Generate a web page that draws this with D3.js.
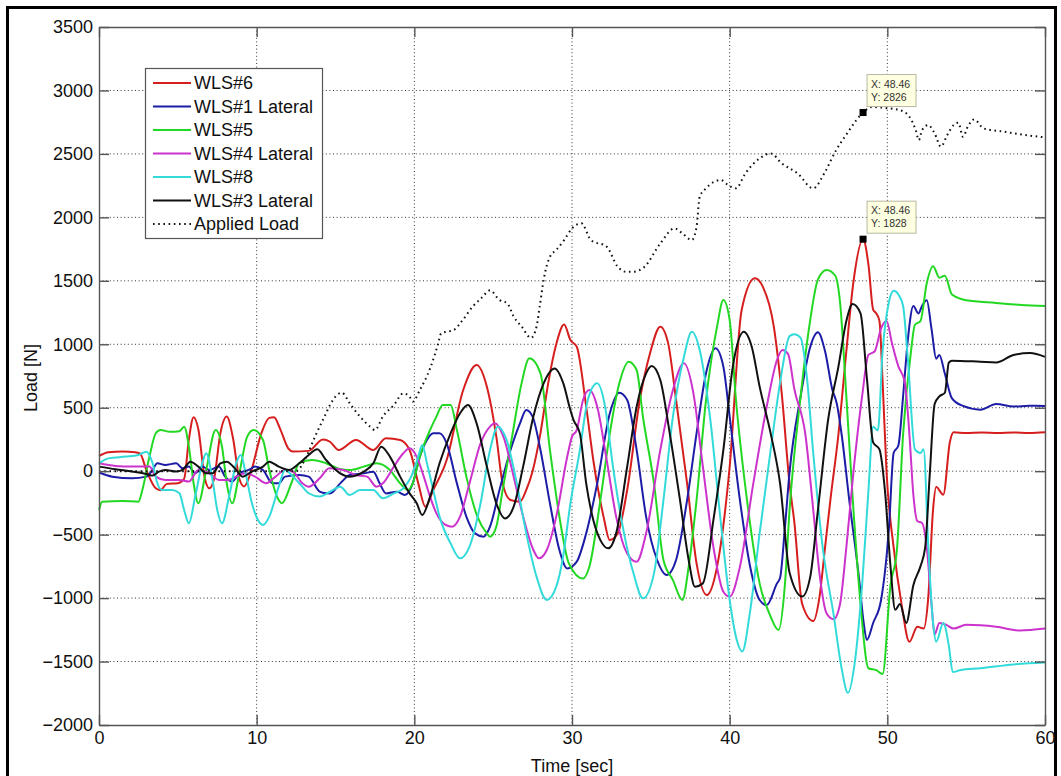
<!DOCTYPE html>
<html>
<head>
<meta charset="utf-8">
<script src="https://cdn.jsdelivr.net/npm/d3@7"></script>
<style>
  html, body { margin: 0; padding: 0; background: #fff; }
  svg { display: block; font-family: "Liberation Sans", Arial, Helvetica, sans-serif; }
</style>
</head>
<body>
<svg id="chart" width="1061" height="776"></svg>
<script>
// Axis ticks
const xTicks = [0, 10, 20, 30, 40, 50, 60];
const yTicks = [-2000, -1500, -1000, -500, 0, 500, 1000, 1500, 2000, 2500, 3000, 3500];

// Series as [time s, load N]
const wls6 = [[0,120],[0.6,150],[1.5,155],[2.3,150],[2.6,140],[3.0,10],[3.6,-135],[3.9,-150],[4.3,-100],[5.0,-95],[5.4,-60],[5.7,250],[6.0,425],[6.3,330],[6.7,-50],[7.0,-135],[7.3,-60],[7.7,300],[8.1,430],[8.5,260],[8.9,-60],[9.2,-120],[9.6,-20],[10.3,300],[10.8,420],[11.1,425],[11.5,330],[12.0,180],[12.3,155],[13.3,160],[14.2,250],[14.65,232],[15.2,167],[16.3,246],[17.4,167],[18.2,259],[19.1,246],[19.7,167],[20.25,-96],[20.7,-280],[21.2,-148],[22.05,88],[23.1,640],[23.95,837],[24.6,666],[25.2,272],[25.6,-96],[26.1,-227],[26.7,-240],[27.1,-148],[27.5,0],[28.0,300],[28.5,700],[29.0,1000],[29.5,1155],[29.9,1033],[30.3,981],[30.9,508],[31.35,88],[32.0,-358],[32.4,-543],[32.9,-490],[33.5,-148],[34.3,561],[34.95,929],[35.6,1139],[36.1,1007],[36.6,561],[37.3,-96],[37.9,-727],[38.55,-976],[39.2,-753],[40.0,35],[40.76,1270],[41.6,1520],[42.1,1454],[42.8,1139],[43.3,615],[43.8,-100],[44.1,-400],[44.6,-1047],[45.3,-1181],[45.7,-988],[46.05,-601],[46.4,-214],[46.9,291],[47.4,945],[47.84,1481],[48.46,1828],[48.8,1630],[49.1,1273],[49.3,1243],[49.5,1183],[49.7,708],[49.95,-6],[50.4,-601],[50.9,-1047],[51.4,-1344],[51.9,-1226],[52.3,-1240],[52.6,-988],[52.9,-303],[53.1,-125],[53.55,-185],[53.97,232],[54.2,306],[55,300],[56,305],[57,300],[58,305],[59,300],[60,306]];

const wls1Lat = [[0,-10],[0.85,-43],[2.1,-56],[3.0,-43],[3.4,10],[3.7,62],[4.2,49],[4.9,62],[5.3,23],[5.7,36],[6.1,-17],[6.55,36],[7.0,10],[7.6,36],[8.0,-43],[8.45,-82],[8.9,-17],[9.5,10],[9.9,36],[10.4,10],[11.0,-95],[11.4,-95],[11.8,-43],[12.7,-30],[13.3,-43],[14.0,-161],[14.4,-174],[14.65,-175],[15.3,-96],[15.9,-30],[16.8,-17],[17.4,-4],[17.8,-96],[18.2,-175],[18.9,-162],[19.4,-188],[19.9,-96],[20.35,115],[20.8,246],[21.2,298],[21.6,298],[22.05,219],[22.7,-96],[23.3,-358],[23.85,-490],[24.4,-516],[24.8,-437],[25.4,-148],[26.1,167],[26.7,377],[27.1,482],[27.5,430],[28.0,167],[28.6,-253],[29.2,-621],[29.7,-766],[30.3,-713],[30.9,-490],[31.6,-96],[32.4,456],[33.0,618],[33.5,561],[34.1,167],[34.7,-358],[35.4,-700],[36.0,-818],[36.6,-700],[37.3,-228],[37.9,298],[38.5,771],[39.1,968],[39.6,824],[40.0,429],[40.65,-228],[41.3,-753],[41.9,-1015],[42.35,-1055],[43.0,-884],[43.2,-839],[43.5,-450],[43.8,-6],[44.5,589],[45.1,975],[45.6,1094],[46.05,945],[46.5,648],[46.8,529],[47.1,291],[47.6,-244],[48.2,-839],[48.5,-1196],[48.7,-1330],[49.1,-1196],[49.6,-1017],[50.1,-452],[50.4,143],[50.7,202],[51.0,589],[51.3,1035],[51.65,1302],[51.97,1243],[52.2,1302],[52.5,1347],[52.8,1124],[53.1,886],[53.3,916],[53.65,767],[54.1,574],[54.8,514],[55.9,485],[56.9,529],[58,510],[59,515],[60,514]];

const wls5 = [[0,-306],[0.2,-240],[1.5,-235],[2.5,-240],[2.75,-148],[3.2,115],[3.6,299],[3.9,325],[4.5,310],[5.1,315],[5.4,351],[5.7,194],[6.0,-95],[6.3,-253],[6.8,10],[7.4,325],[7.8,194],[8.1,-95],[8.45,-253],[8.9,-16],[9.4,272],[9.8,325],[10.4,246],[10.8,10],[11.4,-227],[11.6,-253],[12.2,-95],[12.7,63],[13.5,88],[14.4,63],[15.2,20],[15.9,9],[16.8,36],[17.6,62],[18.45,9],[19.1,-96],[19.6,-148],[19.9,-96],[20.35,115],[21.0,325],[21.4,430],[21.8,521],[22.3,521],[22.7,325],[23.3,-43],[24.0,-358],[24.6,-490],[24.8,-516],[25.2,-437],[25.6,-148],[26.2,272],[26.8,692],[27.3,889],[28.0,771],[28.6,167],[29.2,-358],[29.8,-726],[30.7,-845],[31.1,-753],[31.8,-228],[32.4,298],[33.0,692],[33.6,863],[34.1,797],[34.5,429],[35.2,-96],[35.8,-700],[36.4,-858],[37.0,-1015],[37.4,-753],[37.9,-228],[38.5,561],[39.2,1139],[39.6,1349],[40.0,1191],[40.4,561],[41.1,-228],[41.9,-884],[42.6,-1147],[43.1,-1252],[43.5,-900],[43.8,-304],[44.5,589],[45.1,1183],[45.6,1511],[46.15,1585],[46.7,1540],[47.0,1332],[47.4,589],[47.85,-304],[48.3,-1047],[48.8,-1553],[49.3,-1568],[49.7,-1598],[50.2,-898],[50.6,-631],[51.0,291],[51.5,945],[51.75,1154],[52.1,1183],[52.5,1481],[52.9,1615],[53.3,1525],[53.65,1540],[54.1,1392],[55.0,1347],[56.9,1326],[58.5,1310],[60,1302]];

const wls4Lat = [[0,62],[1.05,41],[2.1,36],[3.2,36],[3.6,-43],[4.2,-69],[5.1,-69],[5.7,-82],[6.3,10],[7.0,-17],[7.6,-69],[8.2,-69],[8.7,-43],[9.3,-17],[9.9,-43],[10.6,-95],[11.2,-43],[11.8,10],[12.3,-3],[12.9,-95],[13.3,-122],[14.0,-56],[14.6,23],[15.5,9],[16.3,-30],[17.0,-43],[17.6,-122],[18.0,-96],[18.7,36],[19.3,141],[19.7,180],[20.15,115],[20.6,-43],[21.0,-201],[21.4,-332],[22.0,-424],[22.4,-437],[22.9,-358],[23.5,-96],[24.2,219],[24.8,351],[25.1,377],[25.65,272],[26.3,-43],[26.9,-358],[27.55,-621],[27.9,-687],[28.4,-621],[29.0,-358],[29.7,115],[30.0,272],[30.3,324],[30.7,561],[31.1,640],[31.6,508],[32.2,88],[32.8,-358],[33.5,-648],[34.1,-713],[34.7,-490],[35.6,167],[36.4,640],[37.1,850],[37.7,613],[38.3,35],[39.0,-621],[39.6,-950],[40.0,-989],[40.65,-753],[41.5,-96],[42.35,508],[43.0,876],[43.35,955],[43.7,925],[44.1,648],[44.8,291],[45.3,-304],[45.7,-809],[46.15,-1121],[46.6,-1166],[47.0,-1047],[47.4,-601],[47.85,-6],[48.4,589],[48.8,916],[49.2,945],[49.6,1124],[49.95,1183],[50.3,1005],[50.7,826],[51.1,708],[51.4,291],[51.65,-185],[51.9,-393],[52.2,-408],[52.5,-601],[52.8,-1047],[53.0,-1285],[53.3,-1196],[53.75,-1211],[54.2,-1240],[55.0,-1211],[56.9,-1226],[58.4,-1255],[60,-1240]];

const wls8 = [[0,62],[0.6,101],[1.7,115],[2.5,128],[3.0,154],[3.4,62],[3.7,-95],[4.0,-148],[4.65,-148],[5.1,-174],[5.4,-306],[5.7,-411],[6.1,-200],[6.55,62],[6.8,141],[7.2,-69],[7.5,-306],[7.8,-411],[8.25,-200],[8.7,62],[9.0,128],[9.3,-17],[9.7,-253],[10.15,-398],[10.4,-424],[10.8,-358],[11.4,-122],[11.8,10],[12.3,-43],[12.9,-122],[13.3,-174],[14.0,-200],[14.65,-162],[15.3,-122],[15.9,-188],[16.55,-148],[17.4,-148],[18.0,-214],[18.7,-175],[19.3,-135],[19.8,-43],[20.25,115],[20.5,206],[20.8,62],[21.2,-148],[21.6,-358],[22.3,-569],[22.9,-687],[23.5,-595],[24.2,-253],[24.8,167],[25.3,351],[25.85,246],[26.5,-96],[27.1,-490],[27.75,-831],[28.4,-1015],[29.0,-910],[29.4,-700],[29.9,-254],[30.5,167],[31.0,561],[31.6,692],[32.1,508],[32.6,35],[33.3,-490],[33.9,-805],[34.5,-1002],[35.2,-805],[35.8,-228],[36.4,429],[37.1,902],[37.6,1099],[38.1,955],[38.75,429],[39.4,-358],[40.0,-1015],[40.45,-1330],[40.8,-1420],[41.3,-1100],[41.9,-490],[42.6,167],[43.2,700],[43.8,1064],[44.1,1079],[44.5,1050],[44.9,737],[45.3,143],[45.9,-601],[46.6,-1136],[47.1,-1553],[47.5,-1746],[47.95,-1493],[48.4,-898],[48.8,-155],[49.1,351],[49.4,321],[49.7,945],[50.1,1332],[50.4,1421],[50.7,1392],[51.0,1302],[51.3,886],[51.75,172],[52.1,143],[52.3,172],[52.6,-601],[52.9,-1196],[53.1,-1344],[53.55,-1196],[53.9,-1374],[54.15,-1583],[54.6,-1568],[55.9,-1553],[58.0,-1523],[60,-1508]];

const wls3Lat = [[0,36],[1.05,15],[2.1,-3],[3.0,-22],[3.4,-35],[3.8,-3],[4.2,10],[4.9,-3],[5.3,10],[5.8,75],[6.3,36],[6.8,-17],[7.2,-17],[7.7,62],[8.1,75],[8.7,10],[9.1,-43],[9.7,-3],[10.4,36],[10.8,75],[11.4,36],[12.05,10],[12.7,62],[13.3,128],[13.85,172],[14.4,88],[14.8,36],[15.3,-17],[15.9,-43],[16.8,-4],[17.4,62],[17.9,193],[18.45,115],[19.1,-43],[19.7,-175],[20.15,-253],[20.5,-345],[21.0,-201],[21.6,62],[22.3,298],[22.9,456],[23.4,521],[23.95,377],[24.6,36],[25.2,-253],[25.75,-372],[26.3,-280],[26.9,36],[27.55,430],[28.2,692],[28.9,810],[29.45,692],[29.9,480],[30.1,403],[30.5,298],[30.9,-96],[31.35,-385],[31.8,-543],[32.3,-608],[32.8,-490],[33.5,35],[34.1,508],[34.7,771],[35.05,829],[35.6,718],[36.2,298],[36.85,-228],[37.4,-700],[37.8,-910],[38.3,-884],[39.0,-358],[39.6,167],[40.2,824],[40.9,1099],[41.4,981],[41.9,666],[42.6,298],[43.2,-100],[43.8,-800],[44.6,-988],[45.1,-839],[45.6,-304],[46.25,410],[46.9,826],[47.4,1183],[47.8,1317],[48.3,1243],[48.7,737],[49.1,227],[49.5,172],[49.85,-155],[50.2,-750],[50.5,-1092],[50.8,-1047],[51.2,-1196],[51.65,-898],[52.1,-750],[52.4,-601],[52.7,-6],[53.0,529],[53.3,589],[53.65,618],[53.9,856],[54.1,871],[55.9,862],[56.9,856],[58.0,916],[59.05,931],[60,901]];

const appliedLoad = [[0,0],[12.5,0],[13.1,102],[13.7,272],[14.4,456],[14.65,521],[15.4,619],[15.9,535],[16.55,430],[17.2,351],[17.5,324],[18.0,430],[18.7,521],[19.3,613],[19.7,587],[19.9,548],[20.35,640],[21.0,810],[21.5,1000],[21.7,1086],[22.05,1099],[22.5,1112],[23.0,1180],[23.7,1296],[24.3,1370],[24.8,1425],[25.4,1349],[25.9,1322],[26.3,1218],[26.8,1140],[27.4,1050],[27.75,1139],[27.95,1296],[28.2,1507],[28.6,1690],[29.0,1743],[29.5,1821],[30.0,1913],[30.6,1953],[31.2,1821],[32.2,1769],[32.9,1611],[33.4,1572],[33.9,1572],[34.6,1611],[35.6,1795],[36.5,1913],[37.0,1874],[37.6,1821],[37.9,1926],[38.1,2163],[38.5,2229],[39.45,2294],[39.9,2255],[40.4,2229],[41.0,2347],[41.9,2465],[42.6,2504],[43.3,2426],[44.3,2347],[45.3,2229],[46.0,2347],[46.7,2518],[47.45,2662],[48.0,2760],[48.46,2826],[49.0,2870],[50.0,2860],[50.8,2845],[51.4,2793],[51.8,2688],[52.0,2609],[52.2,2688],[52.6,2727],[53.0,2662],[53.4,2557],[53.8,2649],[54.2,2727],[54.5,2746],[54.8,2635],[55.1,2714],[55.5,2772],[56.1,2701],[57.4,2675],[58.8,2648],[60,2630]];

const seriesNames = ["WLS#6", "WLS#1 Lateral", "WLS#5", "WLS#4 Lateral", "WLS#8", "WLS#3 Lateral", "Applied Load"];
const seriesData = [wls6, wls1Lat, wls5, wls4Lat, wls8, wls3Lat, appliedLoad];
const seriesColors = ["#d61e1e", "#1c1ca6", "#22d822", "#cc33cc", "#33dada", "#111111", "#111111"];

// Data cursor readouts: [time, load]
const dataTips = [[48.46, 2826], [48.46, 1828]];

const svg = d3.select("#chart");
const margin = { left: 99, right: 1045, top: 27, bottom: 725 };

const x = d3.scaleLinear().domain([0, 60]).range([margin.left, margin.right]);
const y = d3.scaleLinear().domain([-2000, 3500]).range([margin.bottom, margin.top]);

// figure frame
svg.append("rect")
  .attr("x", 7.5).attr("y", 7.5).attr("width", 1048).attr("height", 820)
  .attr("fill", "none").attr("stroke", "#000").attr("stroke-width", 3);

// dotted grid
const grid = svg.append("g").attr("class", "grid");
grid.selectAll("line.gx").data(xTicks.slice(1, -1)).join("line")
  .attr("x1", d => x(d)).attr("x2", d => x(d))
  .attr("y1", margin.top).attr("y2", margin.bottom);
grid.selectAll("line.gy").data(yTicks.slice(1, -1)).join("line")
  .attr("y1", d => y(d)).attr("y2", d => y(d))
  .attr("x1", margin.left).attr("x2", margin.right);
grid.selectAll("line")
  .attr("stroke", "#333").attr("stroke-width", 1).attr("stroke-dasharray", "1,2.6");

// data lines
const line = d3.line().x(d => x(d[0])).y(d => y(d[1])).curve(d3.curveMonotoneX);
const plot = svg.append("g");
seriesData.forEach((data, i) => {
  const isLoad = i === 6;
  plot.append("path")
    .datum(data)
    .attr("fill", "none")
    .attr("stroke", seriesColors[i])
    .attr("stroke-width", 2)
    .attr("stroke-dasharray", isLoad ? "1.6,3.6" : null)
    .attr("stroke-linejoin", "round")
    .attr("d", line);
});

// axes with inward ticks on all four sides
const axisFont = g => g.selectAll("text")
  .attr("font-size", 18).attr("fill", "#111")
  .attr("font-family", "'Liberation Sans', Arial, sans-serif");
const axisStyle = g => {
  g.select(".domain").attr("stroke", "#555").attr("stroke-width", 1.4);
  g.selectAll(".tick line").attr("stroke", "#555").attr("stroke-width", 1.4);
};

svg.append("g")
  .attr("transform", `translate(0,${margin.bottom})`)
  .call(d3.axisBottom(x).tickValues(xTicks).tickSize(-10).tickPadding(6).tickSizeOuter(0))
  .call(axisStyle).call(axisFont);
svg.append("g")
  .attr("transform", `translate(0,${margin.top})`)
  .call(d3.axisTop(x).tickValues(xTicks).tickSize(-10).tickFormat("").tickSizeOuter(0))
  .call(axisStyle);
svg.append("g")
  .attr("transform", `translate(${margin.left},0)`)
  .call(d3.axisLeft(y).tickValues(yTicks).tickSize(-10).tickPadding(6).tickSizeOuter(0).tickFormat(d3.format("d")))
  .call(axisStyle).call(axisFont);
svg.append("g")
  .attr("transform", `translate(${margin.right},0)`)
  .call(d3.axisRight(y).tickValues(yTicks).tickSize(-10).tickFormat("").tickSizeOuter(0))
  .call(axisStyle);

// axis titles
svg.append("text")
  .attr("x", (margin.left + margin.right) / 2).attr("y", 772)
  .attr("text-anchor", "middle").attr("font-size", 18).attr("fill", "#111")
  .text("Time [sec]");
svg.append("text")
  .attr("transform", `translate(37,${(margin.top + margin.bottom) / 2 + 2}) rotate(-90)`)
  .attr("text-anchor", "middle").attr("font-size", 18).attr("fill", "#111")
  .text("Load [N]");

// data cursor markers and readouts
dataTips.forEach(([t, v]) => {
  const px = x(t), py = y(v);
  svg.append("rect")
    .attr("x", px - 3.5).attr("y", py - 3.5).attr("width", 7).attr("height", 7)
    .attr("fill", "#000");
  const bx = px + 4, by = py - 38;
  svg.append("rect")
    .attr("x", bx).attr("y", by).attr("width", 49).attr("height", 32)
    .attr("fill", "#ffffe1").attr("stroke", "#b8b8a0").attr("stroke-width", 1);
  svg.append("text").attr("x", bx + 4).attr("y", by + 13)
    .attr("font-size", 10.5).attr("fill", "#333").text(`X: ${t.toFixed(2)}`);
  svg.append("text").attr("x", bx + 4).attr("y", by + 26)
    .attr("font-size", 10.5).attr("fill", "#333").text(`Y: ${v}`);
});

// legend
const legend = svg.append("g");
legend.append("rect")
  .attr("x", 145.5).attr("y", 68.5).attr("width", 177).attr("height", 170)
  .attr("fill", "#fff").attr("stroke", "#555").attr("stroke-width", 1.2);
seriesNames.forEach((name, i) => {
  const ly = 83 + i * 23.5;
  legend.append("line")
    .attr("x1", 153).attr("x2", 191).attr("y1", ly).attr("y2", ly)
    .attr("stroke", seriesColors[i]).attr("stroke-width", 2)
    .attr("stroke-dasharray", i === 6 ? "1.6,3.6" : null);
  legend.append("text")
    .attr("x", 194).attr("y", ly).attr("dy", "0.35em")
    .attr("font-size", 18).attr("fill", "#111").text(name);
});
</script>
</body>
</html>
